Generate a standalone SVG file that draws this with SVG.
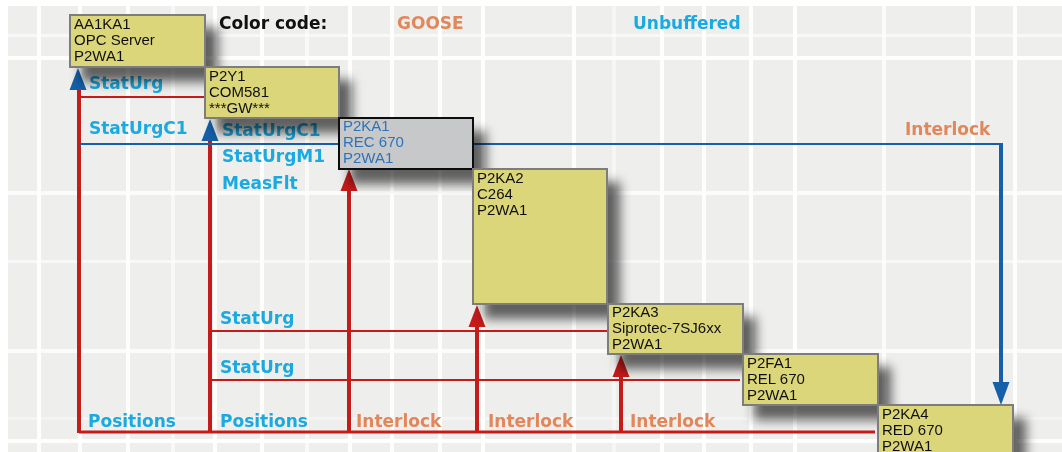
<svg xmlns="http://www.w3.org/2000/svg" xmlns:xlink="http://www.w3.org/1999/xlink" width="1062" height="452" viewBox="0 0 1062 452">
<style>
.bg{fill:#eeefed}
.gv{fill:#ffffff}
.lbl{font-family:"DejaVu Sans","Liberation Sans",sans-serif;font-weight:bold;font-size:17px}
.cy{fill:#1ba9e1}
.or{fill:#e2875b}
.bk{fill:#111111}
.nt{font-family:"Liberation Sans",Arial,sans-serif;font-size:15px;fill:#111111}
.nt2{font-family:"Liberation Sans",Arial,sans-serif;font-size:15px;fill:#2f73b9}
.box{fill:#dcd67a;stroke:#7d7d7d;stroke-width:2}
.boxg{fill:#c7c8ca;stroke:#111111;stroke-width:2}
.rv{stroke:#c61b1b;stroke-width:4;fill:none}
.rh{stroke:#c61b1b;stroke-width:2;fill:none}
.bl{stroke:#1560a8;stroke-width:2;fill:none}
.bv{stroke:#1560a8;stroke-width:4;fill:none}
</style>
<defs>
<filter id="sh" x="-20%" y="-20%" width="160%" height="180%">
<feGaussianBlur in="SourceAlpha" stdDeviation="5.5"/>
<feOffset dx="12" dy="14" result="b"/>
<feFlood flood-color="#000000" flood-opacity="0.6"/>
<feComposite in2="b" operator="in"/>
<feMerge><feMergeNode/><feMergeNode in="SourceGraphic"/></feMerge>
</filter>
<path id="up" d="M0,0 L-8.5,22 L8.5,22 Z"/>
<path id="dn" d="M0,0 L-8.5,-23 L8.5,-23 Z"/>
</defs>

<g id="background">
<rect class="bg" x="8" y="6" width="1054" height="446"/>
<g class="gv" opacity="0.9">
<rect x="37" y="6" width="4" height="446"/>
<rect x="78" y="6" width="4" height="446"/>
<rect x="126" y="6" width="4" height="446"/>
<rect x="171" y="6" width="4" height="446" opacity="0.6"/>
<rect x="213" y="6" width="4" height="446"/>
<rect x="260" y="6" width="4" height="446"/>
<rect x="305" y="6" width="4" height="446" opacity="0.7"/>
<rect x="348" y="6" width="4" height="446"/>
<rect x="390" y="6" width="4" height="446"/>
<rect x="438" y="6" width="4" height="446"/>
<rect x="481" y="6" width="4" height="446"/>
<rect x="572" y="6" width="4" height="446"/>
<rect x="612" y="6" width="4" height="446" opacity="0.5"/>
<rect x="660" y="6" width="4" height="446"/>
<rect x="702" y="6" width="4" height="446"/>
<rect x="749" y="6" width="4" height="446"/>
<rect x="793" y="6" width="4" height="446"/>
<rect x="882" y="6" width="4" height="446" opacity="0.8"/>
<rect x="971" y="6" width="4" height="446"/>
<rect x="1013" y="6" width="4" height="446"/>
<rect x="8" y="34" width="1054" height="3" opacity="0.6"/>
<rect x="8" y="56" width="1054" height="4"/>
<rect x="8" y="191" width="1054" height="4" opacity="0.8"/>
<rect x="8" y="260" width="1054" height="3" opacity="0.6"/>
<rect x="8" y="349" width="1054" height="4" opacity="0.8"/>
<rect x="8" y="417" width="1054" height="3" opacity="0.4"/>
<rect x="8" y="439" width="1054" height="4"/>
</g>
</g>

<g id="legend">
<text class="lbl bk" x="219" y="29">Color code:</text>
<text class="lbl or" x="397" y="29">GOOSE</text>
<text class="lbl cy" x="633" y="29">Unbuffered</text>
</g>

<g id="labels">
<text class="lbl cy" x="89" y="89">StatUrg</text>
<text class="lbl cy" x="89" y="134">StatUrgC1</text>
<text class="lbl cy" x="222" y="136">StatUrgC1</text>
<text class="lbl cy" x="222" y="162">StatUrgM1</text>
<text class="lbl cy" x="222" y="189">MeasFlt</text>
<text class="lbl cy" x="220" y="324">StatUrg</text>
<text class="lbl cy" x="220" y="373">StatUrg</text>
<text class="lbl cy" x="88" y="427">Positions</text>
<text class="lbl cy" x="220" y="427">Positions</text>
<text class="lbl or" x="356" y="427">Interlock</text>
<text class="lbl or" x="488" y="427">Interlock</text>
<text class="lbl or" x="630" y="427">Interlock</text>
<text class="lbl or" x="905" y="135">Interlock</text>
</g>

<g id="connectors">
<path class="rh" d="M80,97 H205"/>
<path class="rh" d="M210,331 H608"/>
<path class="rh" d="M210,380 H740"/>
<path class="rh" d="M79,432 H875" style="stroke-width:3"/>
<path class="rv" d="M79,433 V90"/>
<path class="rv" d="M210,433 V140"/>
<path class="rv" d="M349,433 V189"/>
<path class="rv" d="M477,433 V326"/>
<path class="rv" d="M621,433 V376"/>
<path class="bl" d="M80,144 H339"/>
<path class="bl" d="M473,144 H1001"/>
<path class="bv" d="M1001,143 V384"/>
<use xlink:href="#up" x="78" y="68" fill="#1560a8"/>
<use xlink:href="#up" x="210" y="119" fill="#1560a8"/>
<use xlink:href="#up" x="349" y="169" fill="#c61b1b"/>
<use xlink:href="#up" x="477" y="305" fill="#c61b1b"/>
<use xlink:href="#up" x="621" y="355" fill="#c61b1b"/>
<use xlink:href="#dn" x="1001" y="405" fill="#1560a8"/>
</g>

<g id="node-AA1KA1" filter="url(#sh)">
<rect class="box" x="70" y="15" width="135" height="52"/>
<text class="nt" x="74" y="29">AA1KA1</text>
<text class="nt" x="74" y="45">OPC Server</text>
<text class="nt" x="74" y="61">P2WA1</text>
</g>
<g id="node-P2Y1" filter="url(#sh)">
<rect class="box" x="205" y="67" width="134" height="51"/>
<text class="nt" x="209" y="81">P2Y1</text>
<text class="nt" x="209" y="97">COM581</text>
<text class="nt" x="209" y="113">***GW***</text>
</g>
<g id="node-P2KA1" filter="url(#sh)">
<rect class="boxg" x="339" y="118" width="134" height="51"/>
<text class="nt2" x="343" y="131">P2KA1</text>
<text class="nt2" x="343" y="147">REC 670</text>
<text class="nt2" x="343" y="163">P2WA1</text>
</g>
<g id="node-P2KA2" filter="url(#sh)">
<rect class="box" x="473" y="169" width="134" height="135"/>
<text class="nt" x="477" y="183">P2KA2</text>
<text class="nt" x="477" y="199">C264</text>
<text class="nt" x="477" y="215">P2WA1</text>
</g>
<g id="node-P2KA3" filter="url(#sh)">
<rect class="box" x="608" y="304" width="135" height="50"/>
<text class="nt" x="612" y="317">P2KA3</text>
<text class="nt" x="612" y="333">Siprotec-7SJ6xx</text>
<text class="nt" x="612" y="349">P2WA1</text>
</g>
<g id="node-P2FA1" filter="url(#sh)">
<rect class="box" x="743" y="354" width="135" height="51"/>
<text class="nt" x="747" y="368">P2FA1</text>
<text class="nt" x="747" y="384">REL 670</text>
<text class="nt" x="747" y="400">P2WA1</text>
</g>
<g id="node-P2KA4" filter="url(#sh)">
<rect class="box" x="878" y="405" width="135" height="60"/>
<text class="nt" x="882" y="419">P2KA4</text>
<text class="nt" x="882" y="435">RED 670</text>
<text class="nt" x="882" y="451">P2WA1</text>
</g>
</svg>
